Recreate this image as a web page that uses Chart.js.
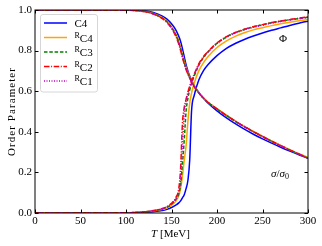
<!DOCTYPE html>
<html>
<head>
<meta charset="utf-8">
<script src="https://cdn.jsdelivr.net/npm/chart.js@4.4.1/dist/chart.umd.min.js"></script>
<style>
  html, body { margin: 0; padding: 0; background: #fff; }
  #wrap { width: 322px; height: 246px; }
</style>
</head>
<body>
<div id="wrap"><canvas id="chart" width="322" height="246"></canvas></div>
<script>
// temperatures (MeV)
const temps = [0, 50, 100, 120, 130, 140, 145, 150, 155, 158, 160, 162, 164, 166, 168, 170,
  172, 175, 180, 185, 190, 200, 210, 220, 230, 240, 250, 260, 270, 280, 290, 300];

// sigma / sigma_0
const sigC4 = [1, 1, 1, 0.996, 0.988, 0.97, 0.955, 0.932, 0.9, 0.87, 0.845, 0.81, 0.77, 0.73, 0.7, 0.675,
  0.655, 0.628, 0.594, 0.566, 0.542, 0.503, 0.47, 0.44, 0.413, 0.388, 0.365, 0.344, 0.324, 0.305, 0.287, 0.27];
const sigRC4 = [1, 1, 0.999, 0.994, 0.983, 0.962, 0.945, 0.918, 0.88, 0.846, 0.816, 0.781, 0.748, 0.717, 0.692, 0.67,
  0.651, 0.626, 0.594, 0.568, 0.547, 0.514, 0.483, 0.454, 0.427, 0.402, 0.378, 0.355, 0.333, 0.312, 0.292, 0.273];
const sigRC3 = [1, 1, 0.999, 0.993, 0.982, 0.96, 0.942, 0.915, 0.875, 0.84, 0.81, 0.775, 0.742, 0.712, 0.688, 0.667,
  0.648, 0.624, 0.592, 0.566, 0.545, 0.512, 0.481, 0.452, 0.425, 0.4, 0.376, 0.353, 0.331, 0.31, 0.29, 0.27];
const sigRC2 = [1, 1, 0.999, 0.992, 0.98, 0.957, 0.938, 0.91, 0.868, 0.832, 0.8, 0.765, 0.735, 0.707, 0.684, 0.664,
  0.646, 0.622, 0.591, 0.566, 0.545, 0.513, 0.482, 0.453, 0.426, 0.401, 0.377, 0.354, 0.332, 0.311, 0.291, 0.271];
const sigRC1 = [1, 1, 0.999, 0.993, 0.981, 0.959, 0.94, 0.913, 0.872, 0.837, 0.806, 0.771, 0.739, 0.71, 0.686, 0.666,
  0.647, 0.623, 0.592, 0.566, 0.545, 0.512, 0.481, 0.452, 0.425, 0.4, 0.376, 0.353, 0.331, 0.31, 0.29, 0.27];

// Phi
const phiC4 = [0, 0, 0, 0.003, 0.006, 0.012, 0.018, 0.027, 0.04, 0.05, 0.06, 0.075, 0.09, 0.12, 0.16, 0.26,
  0.5, 0.58, 0.655, 0.7, 0.73, 0.775, 0.81, 0.835, 0.855, 0.872, 0.887, 0.9, 0.912, 0.924, 0.935, 0.945];
const phiRC4 = [0, 0, 0.001, 0.005, 0.01, 0.018, 0.026, 0.038, 0.06, 0.085, 0.12, 0.18, 0.26, 0.33, 0.45, 0.54,
  0.59, 0.64, 0.7, 0.74, 0.77, 0.815, 0.847, 0.87, 0.888, 0.902, 0.913, 0.923, 0.932, 0.94, 0.947, 0.953];
const phiRC3 = [0, 0, 0.001, 0.005, 0.011, 0.02, 0.029, 0.043, 0.068, 0.095, 0.14, 0.24, 0.36, 0.5, 0.565, 0.605,
  0.638, 0.675, 0.727, 0.765, 0.793, 0.836, 0.866, 0.888, 0.904, 0.917, 0.927, 0.937, 0.945, 0.952, 0.958, 0.964];
const phiRC2 = [0, 0, 0.001, 0.006, 0.012, 0.022, 0.032, 0.048, 0.078, 0.12, 0.22, 0.44, 0.52, 0.56, 0.595, 0.625,
  0.65, 0.685, 0.735, 0.77, 0.795, 0.838, 0.868, 0.889, 0.905, 0.918, 0.928, 0.938, 0.946, 0.953, 0.96, 0.966];
const phiRC1 = [0, 0, 0.001, 0.006, 0.011, 0.021, 0.03, 0.045, 0.072, 0.105, 0.17, 0.33, 0.49, 0.55, 0.588, 0.618,
  0.645, 0.68, 0.73, 0.765, 0.792, 0.834, 0.864, 0.886, 0.902, 0.915, 0.925, 0.935, 0.943, 0.951, 0.957, 0.963];

const seriesNames = ['C4', 'C4', 'C3', 'C2', 'C1'];
const seriesSup = ['', 'R', 'R', 'R', 'R'];
const xTicks = [0, 50, 100, 150, 200, 250, 300];
const yTicks = [0, 0.2, 0.4, 0.6, 0.8, 1.0];

const SERIF = '"Liberation Serif", "DejaVu Serif", serif';

const styles = [
  { color: '#0000ff', dash: [] },
  { color: '#ffa500', dash: [] },
  { color: '#008000', dash: [3.5, 1.8] },
  { color: '#ff0000', dash: [5.5, 1.6, 1, 1.6] },
  { color: '#bf00bf', dash: [1, 1.5] }
];
const sigAll = [sigC4, sigRC4, sigRC3, sigRC2, sigRC1];
const phiAll = [phiC4, phiRC4, phiRC3, phiRC2, phiRC1];

function pts(vals) {
  return temps.map((t, i) => ({ x: t, y: vals[i] }));
}

const datasets = [];
styles.forEach((s, i) => {
  [sigAll[i], phiAll[i]].forEach((vals, k) => {
    datasets.push({
      label: seriesSup[i] + seriesNames[i],
      data: pts(vals),
      borderColor: s.color,
      borderDash: s.dash,
      borderWidth: 1.5,
      pointRadius: 0,
      cubicInterpolationMode: 'monotone',
      fill: false,
      order: 10 - i,
      inLegend: k === 0,
      idx: i
    });
  });
});

// frame, inward ticks, legend and text labels
const extras = {
  id: 'extras',
  afterDraw(chart) {
    const ctx = chart.ctx;
    const a = chart.chartArea;
    const xs = chart.scales.x, ys = chart.scales.y;
    ctx.save();
    ctx.strokeStyle = '#000';
    ctx.lineWidth = 1;
    ctx.setLineDash([]);
    ctx.strokeRect(a.left, a.top, a.right - a.left, a.bottom - a.top);
    ctx.beginPath();
    xTicks.forEach(v => {
      const px = Math.round(xs.getPixelForValue(v)) + 0.5;
      ctx.moveTo(px, a.bottom); ctx.lineTo(px, a.bottom - 3.5);
      ctx.moveTo(px, a.top); ctx.lineTo(px, a.top + 3.5);
    });
    yTicks.forEach(v => {
      const py = Math.round(ys.getPixelForValue(v)) + 0.5;
      ctx.moveTo(a.left, py); ctx.lineTo(a.left + 3.5, py);
      ctx.moveTo(a.right, py); ctx.lineTo(a.right - 3.5, py);
    });
    ctx.stroke();

    // legend
    ctx.beginPath();
    ctx.roundRect(40.5, 14.5, 57, 77.5, 2.5);
    ctx.fillStyle = 'rgba(255,255,255,0.8)';
    ctx.fill();
    ctx.strokeStyle = '#d6d6d6';
    ctx.stroke();
    const legendSets = chart.data.datasets.filter(d => d.inLegend);
    legendSets.forEach((d, r) => {
      const y = 23 + r * 14.5;
      ctx.beginPath();
      ctx.strokeStyle = d.borderColor;
      ctx.lineWidth = 1.5;
      ctx.setLineDash(d.borderDash);
      ctx.moveTo(44, y); ctx.lineTo(67, y);
      ctx.stroke();
      ctx.setLineDash([]);
      ctx.fillStyle = '#000';
      ctx.textBaseline = 'alphabetic';
      ctx.textAlign = 'left';
      let x = 74.5;
      const sup = seriesSup[d.idx];
      if (sup) {
        ctx.font = '8px ' + SERIF;
        ctx.fillText(sup, x, y + 0);
        x += ctx.measureText(sup).width;
      }
      ctx.font = '11px ' + SERIF;
      ctx.fillText(seriesNames[d.idx], x, y + 4);
    });

    ctx.fillStyle = '#000';
    // Phi label
    ctx.font = '11px ' + SERIF;
    ctx.textAlign = 'center';
    ctx.textBaseline = 'middle';
    ctx.fillText('Φ', 283, 39.5);

    // sigma / sigma_0 label
    ctx.textAlign = 'left';
    ctx.textBaseline = 'alphabetic';
    let sx = 271;
    const sb = 176.5;
    ctx.font = 'italic 11px ' + SERIF;
    ctx.fillText('σ', sx, sb); sx += ctx.measureText('σ').width;
    ctx.font = '11px ' + SERIF;
    ctx.fillText('/', sx, sb); sx += ctx.measureText('/').width;
    ctx.font = 'italic 11px ' + SERIF;
    ctx.fillText('σ', sx, sb); sx += ctx.measureText('σ').width;
    ctx.font = '8px ' + SERIF;
    ctx.fillText('0', sx, sb + 2);

    // x title
    ctx.font = 'italic 11px ' + SERIF;
    const wT = ctx.measureText('T').width;
    ctx.font = '11px ' + SERIF;
    const wR = ctx.measureText(' [MeV]').width;
    let tx = 170.5 - (wT + wR) / 2;
    ctx.font = 'italic 11px ' + SERIF;
    ctx.fillText('T', tx, 237);
    ctx.font = '11px ' + SERIF;
    ctx.fillText(' [MeV]', tx + wT, 237);

    // y title, spaced out a little to match the wider original face
    const yTitle = 'Order Parameter';
    ctx.font = '11px ' + SERIF;
    const w0 = ctx.measureText(yTitle).width;
    if ('letterSpacing' in ctx) ctx.letterSpacing = Math.max(0, (88 - w0) / (yTitle.length - 1)) + 'px';
    ctx.translate(14.5, (a.top + a.bottom) / 2);
    ctx.rotate(-Math.PI / 2);
    ctx.textAlign = 'center';
    ctx.fillText(yTitle, 0, 0);
    ctx.restore();
  }
};

new Chart(document.getElementById('chart'), {
  type: 'line',
  data: { datasets },
  options: {
    responsive: false,
    animation: false,
    events: [],
    layout: { padding: { top: 10, right: 14, bottom: 0, left: 0 } },
    plugins: { legend: { display: false }, tooltip: { enabled: false } },
    scales: {
      x: {
        type: 'linear', min: 0, max: 300,
        afterFit: s => { s.height = 33; },
        grid: { display: false, drawTicks: false },
        border: { display: false },
        ticks: { stepSize: 50, padding: 2, color: '#000', font: { family: SERIF, size: 11 } }
      },
      y: {
        min: 0, max: 1,
        afterFit: s => { s.width = 35; },
        grid: { display: false, drawTicks: false },
        border: { display: false },
        ticks: {
          stepSize: 0.2, padding: 3, color: '#000', font: { family: SERIF, size: 11 },
          callback: v => Number(v).toFixed(1)
        }
      }
    }
  },
  plugins: [extras]
});
</script>
</body>
</html>
